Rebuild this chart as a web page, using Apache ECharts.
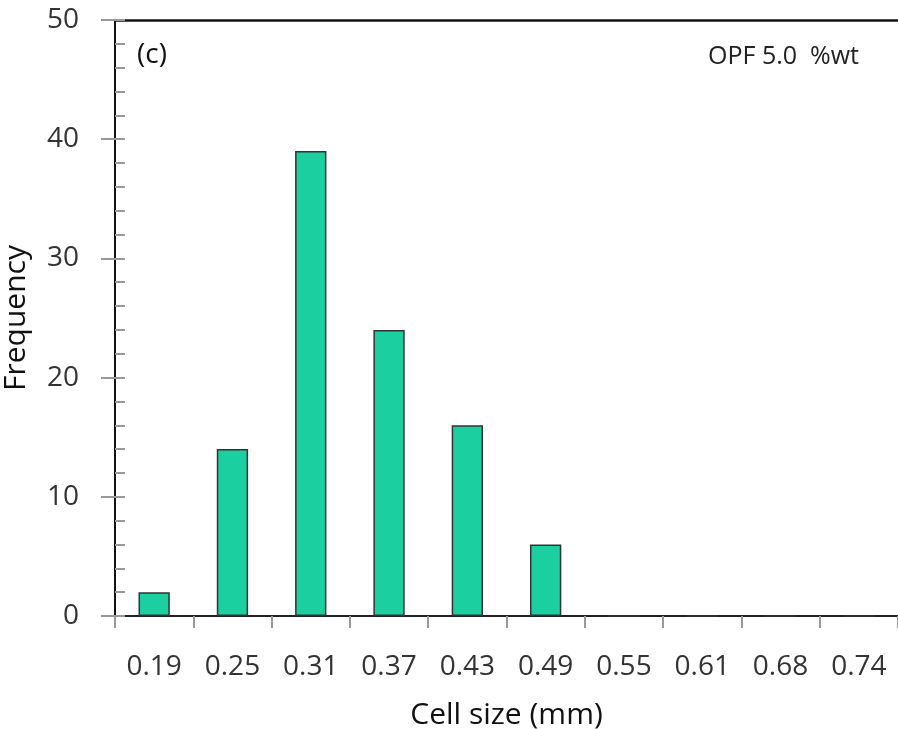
<!DOCTYPE html>
<html>
<head>
<meta charset="utf-8">
<script src="https://cdn.jsdelivr.net/npm/echarts@6/dist/echarts.min.js"></script>
<style>html,body{margin:0;padding:0;background:#fff;}#c{width:898px;height:729px;}</style>
</head>
<body>
<div id="c"></div>
<script>
const categories = ['0.19','0.25','0.31','0.37','0.43','0.49','0.55','0.61','0.68','0.74'];
const frequency = [2, 14, 39, 24, 16, 6, 0, 0, 0, 0];
const yTicks = { min: 0, max: 50, interval: 10 };
const xName = 'Cell size (mm)';
const yName = 'Frequency';
const panelLabel = '(c)';
const seriesLabel = 'OPF 5.0  %wt';

const FONT = '"Open Sans", sans-serif';
const chart = echarts.init(document.getElementById('c'));
chart.setOption({
  animation: false,
  grid: { left: 115, right: 0, top: 20, bottom: 113, containLabel: false, outerBoundsMode: 'none' },
  xAxis: [{
    type: 'category', data: categories, position: 'bottom',
    axisLine: { lineStyle: { color: '#222', width: 2 } },
    axisTick: { show: true, length: 12, lineStyle: { color: '#999', width: 2 } },
    axisLabel: { color: '#333', fontSize: 28, fontFamily: FONT, margin: 37 },
    name: xName, nameLocation: 'middle', nameGap: 84,
    nameTextStyle: { color: '#111', fontSize: 30, fontFamily: FONT, fontWeight: 500 }
  }, {
    type: 'category', data: categories, position: 'top',
    axisLine: { show: true, onZero: false, lineStyle: { color: '#111', width: 2.5 } },
    axisTick: { show: false }, axisLabel: { show: false }
  }],
  yAxis: [{
    type: 'value', position: 'left', min: yTicks.min, max: yTicks.max, interval: yTicks.interval,
    axisLine: { show: true, onZero: false, lineStyle: { color: '#111', width: 2 } },
    axisTick: { show: true, length: 14, lineStyle: { color: '#999', width: 2 } },
    axisLabel: { color: '#333', fontSize: 28, fontFamily: FONT, margin: 36 },
    splitLine: { show: false },
    name: yName, nameLocation: 'middle', nameGap: 84, nameRotate: 90,
    nameTextStyle: { color: '#111', fontSize: 30, fontFamily: FONT, fontWeight: 500 }
  }, {
    type: 'value', position: 'left', min: yTicks.min, max: yTicks.max, interval: yTicks.interval,
    axisLine: { show: false, onZero: false },
    axisTick: { show: true, inside: true, length: 10, lineStyle: { color: '#999', width: 2 } },
    minorTick: { show: true, splitNumber: 5, length: 10, lineStyle: { color: '#999', width: 2 } },
    axisLabel: { show: false }, splitLine: { show: false }
  }],
  series: [{
    type: 'bar', data: frequency, barWidth: '40%',
    itemStyle: { color: '#1ccfa0', borderColor: '#333', borderWidth: 1.5 }
  }],
  graphic: [
    { type: 'text', left: 137, top: 41, style: { text: panelLabel, fontSize: 28, fontFamily: FONT, fill: '#111', fontWeight: 500 } },
    { type: 'text', left: 708, top: 44, style: { text: seriesLabel, fontSize: 25, fontFamily: FONT, fill: '#222' } }
  ]
});
</script>
</body>
</html>
